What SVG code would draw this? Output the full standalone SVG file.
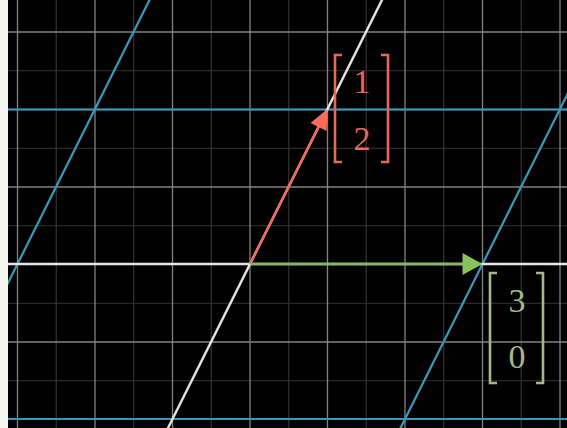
<svg xmlns="http://www.w3.org/2000/svg" width="567" height="428" viewBox="0 0 567 428">
<style>
.major{stroke:#9a9a9a;stroke-width:1.3;opacity:0.85}
.minor{stroke:#333333;stroke-width:1.2}
.blue{stroke:#3c97bd;stroke-width:2.2;fill:none}
.white{stroke:#e6e6e6;stroke-width:2.4;fill:none}
.num{font-family:"Liberation Serif","DejaVu Serif",serif;font-size:34px;text-anchor:middle}
.brk{fill:none;stroke-width:2.6}
</style>
<defs>
<clipPath id="c"><rect x="8" y="0" width="559" height="428"/></clipPath>
</defs>
<rect x="0" y="0" width="567" height="428" fill="#f6f6f1"/>
<rect x="8" y="0" width="559" height="428" fill="#000"/>
<g id="grid" clip-path="url(#c)">
<g class="minor">
<line x1="56.25" y1="0" x2="56.25" y2="428"/>
<line x1="133.75" y1="0" x2="133.75" y2="428"/>
<line x1="211.25" y1="0" x2="211.25" y2="428"/>
<line x1="288.75" y1="0" x2="288.75" y2="428"/>
<line x1="366.25" y1="0" x2="366.25" y2="428"/>
<line x1="443.75" y1="0" x2="443.75" y2="428"/>
<line x1="521.25" y1="0" x2="521.25" y2="428"/>
<line x1="0" y1="70.75" x2="567" y2="70.75"/>
<line x1="0" y1="148.25" x2="567" y2="148.25"/>
<line x1="0" y1="225.75" x2="567" y2="225.75"/>
<line x1="0" y1="303.25" x2="567" y2="303.25"/>
<line x1="0" y1="380.75" x2="567" y2="380.75"/>
</g>
<g class="major">
<line x1="17.5" y1="0" x2="17.5" y2="428"/>
<line x1="95" y1="0" x2="95" y2="428"/>
<line x1="172.5" y1="0" x2="172.5" y2="428"/>
<line x1="250" y1="0" x2="250" y2="428"/>
<line x1="327.5" y1="0" x2="327.5" y2="428"/>
<line x1="405" y1="0" x2="405" y2="428"/>
<line x1="482.5" y1="0" x2="482.5" y2="428"/>
<line x1="560" y1="0" x2="560" y2="428"/>
<line x1="0" y1="32" x2="567" y2="32"/>
<line x1="0" y1="109.5" x2="567" y2="109.5"/>
<line x1="0" y1="187" x2="567" y2="187"/>
<line x1="0" y1="342" x2="567" y2="342"/>
<line x1="0" y1="419" x2="567" y2="419"/>
</g>
</g>
<g id="connectors" clip-path="url(#c)">
<line class="blue" x1="0" y1="109.5" x2="567" y2="109.5"/>
<line class="blue" x1="0" y1="419" x2="567" y2="419"/>
<line class="blue" x1="154.5" y1="-10" x2="-69.5" y2="438"/>
<line class="blue" x1="619.5" y1="-10" x2="395.5" y2="438"/>
<line class="white" x1="0" y1="264" x2="567" y2="264"/>
<line class="white" x1="387" y1="-10" x2="163" y2="438"/>
<line x1="250" y1="264" x2="318.6" y2="126.9" stroke="#f0675a" stroke-width="2.4"/>
<polygon points="327.5,109 326.6,130.9 310.5,122.9" fill="#fc6a5a"/>
<line x1="250" y1="264" x2="463" y2="264" stroke="#86b766" stroke-width="2.4"/>
<polygon points="482.5,264 462.5,253 462.5,275" fill="#86c45e"/>
</g>
<g id="vec-red" fill="#e8675b" stroke="#e8675b">
<path class="brk" d="M342,55 H335 V162 H342 M381,55 H388 V162 H381"/>
<text class="num" x="362" y="93" stroke="none">1</text>
<text class="num" x="362" y="150" stroke="none">2</text>
</g>
<g id="vec-green" fill="#a5b88a" stroke="#a5b88a">
<path class="brk" d="M497,273 H490 V383 H497 M536,273 H543 V383 H536"/>
<text class="num" x="517" y="312" stroke="none">3</text>
<text class="num" x="517" y="368" stroke="none">0</text>
</g>
</svg>
